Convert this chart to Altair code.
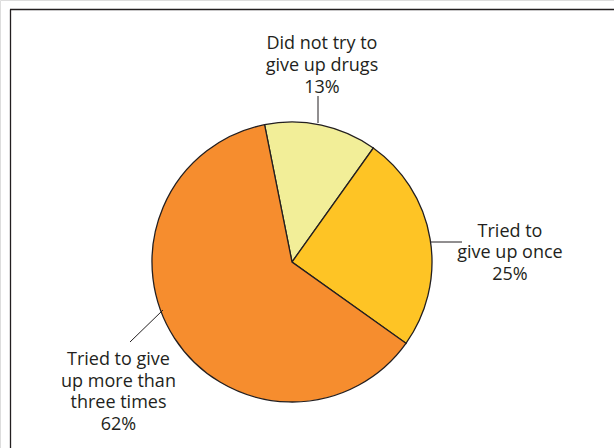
import math
import altair as alt
import pandas as pd

categories = ["Did not try to\ngive up drugs", "Tried to\ngive up once", "Tried to give\nup more than\nthree times"]
values = [13, 25, 62]
colors = ["#F2EE98", "#FEC425", "#F68D2E"]

labels = [f"{c}\n{v}%" for c, v in zip(categories, values)]
df = pd.DataFrame({"cat": categories, "value": values, "label": labels, "order": [0, 1, 2]})

total = sum(values)
start = math.radians(-11.3)
theta_scale = alt.Scale(domain=[0, total], range=[start, start + 2 * math.pi])

CX, CY, R = 292, 262, 140
TEXT = "#231F20"

base = alt.Chart(df).transform_window(
    cum="sum(value)", sort=[alt.SortField("order")]
).transform_calculate(mid="datum.cum - datum.value / 2")

pie = base.mark_arc(outerRadius=R, stroke=TEXT, strokeWidth=1.3).encode(
    theta=alt.Theta("value:Q", stack=True, scale=theta_scale),
    order=alt.Order("order:Q"),
    color=alt.Color("cat:N", scale=alt.Scale(domain=categories, range=colors), legend=None),
    x=alt.value(CX),
    y=alt.value(CY),
)

def label_layer(i, radius, dx, dy):
    return base.transform_filter(alt.datum.order == i).mark_text(
        radius=radius, dx=dx, dy=dy, lineBreak="\n", font="Open Sans", fontSize=18,
        color=TEXT, align="center", baseline="middle", lineHeight=21.8,
    ).encode(
        theta=alt.Theta("mid:Q", stack=None, scale=theta_scale),
        text="label:N",
        x=alt.value(CX),
        y=alt.value(CY),
    )

lab1 = label_layer(0, 200, -12, -22)
lab2 = label_layer(1, 220, 1, 6)
lab3 = label_layer(2, 215, 7, -19)

def rule(x1, y1, x2, y2, w=1.0):
    return alt.Chart(pd.DataFrame({"a": [0]})).mark_rule(color=TEXT, strokeWidth=w).encode(
        x=alt.value(x1), y=alt.value(y1), x2=alt.value(x2), y2=alt.value(y2)
    )

leaders = [
    rule(318, 96, 318, 123),
    rule(430, 242, 462, 242),
    rule(163, 310, 130, 342),
]
frame = [
    rule(10, 9.5, 614, 9.5, 1.3),
    rule(10.5, 9.5, 10.5, 448, 1.3),
]

chart = alt.layer(pie, lab1, lab2, lab3, *leaders, *frame).properties(
    width=614, height=448, padding=0, autosize=alt.AutoSizeParams(type="none")
).configure_view(stroke=None).configure(background="white")

chart.save("out.html", embed_options={"renderer": "svg", "actions": False})
